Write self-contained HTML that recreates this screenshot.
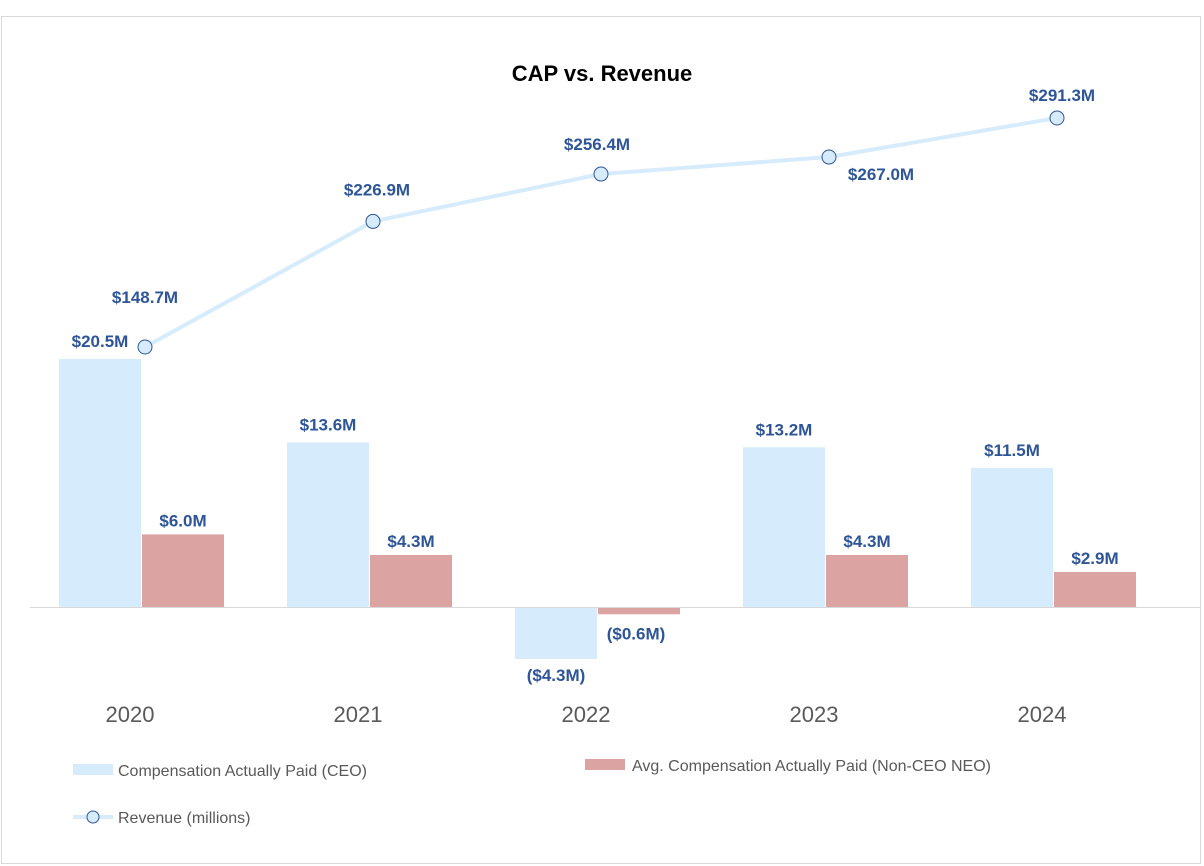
<!DOCTYPE html>
<html><head><meta charset="utf-8"><style>
body{margin:0;background:#fff;font-family:"Liberation Sans",sans-serif}
svg{display:block}
.lbl{font-weight:bold;font-size:17px;fill:#2e5597}
</style></head><body>
<svg id="chart" width="1204" height="866">
<rect x="1.5" y="16.5" width="1199" height="847" fill="#fff" stroke="#d9d9d9"/>
<text x="602" y="81" text-anchor="middle" font-size="22" font-weight="bold" fill="#000">CAP vs. Revenue</text>
<g id="bars"></g><g id="line"></g><g id="labels"></g>
<line x1="30" y1="607.5" x2="1200" y2="607.5" stroke="#d9d9d9"/>
<g>
<rect x="73" y="764" width="40" height="11" fill="#d6ecfc"/>
<text x="118" y="776" font-size="16" fill="#595959">Compensation Actually Paid (CEO)</text>
<rect x="585" y="759" width="40" height="11" fill="#dca3a3"/>
<text x="632" y="771" font-size="16" fill="#595959">Avg. Compensation Actually Paid (Non-CEO NEO)</text>
<line x1="73" y1="817" x2="113" y2="817" stroke="#d6ecfc" stroke-width="4"/>
<circle cx="93" cy="817" r="6" fill="#d6ecfc" stroke="#2e5597"/>
<text x="118" y="823" font-size="16" fill="#595959">Revenue (millions)</text>
</g>
</svg>
<script>
const years=["2020","2021","2022","2023","2024"];
const ceo=[20.5,13.6,-4.3,13.2,11.5];
const neo=[6.0,4.3,-0.6,4.3,2.9];
const revenue=[148.7,226.9,256.4,267.0,291.3];
const ceoLabels=["$20.5M","$13.6M","($4.3M)","$13.2M","$11.5M"];
const neoLabels=["$6.0M","$4.3M","($0.6M)","$4.3M","$2.9M"];
const revLabels=["$148.7M","$226.9M","$256.4M","$267.0M","$291.3M"];
const NS="http://www.w3.org/2000/svg";
const xC=i=>142+i*228;
const yBar=v=>607-v*12.1;
const yRev=v=>347-(v-148.7)*1.606;
function mk(tag,attrs,parent,txt){const e=document.createElementNS(NS,tag);for(const k in attrs)e.setAttribute(k,attrs[k]);if(txt!=null)e.textContent=txt;document.getElementById(parent).appendChild(e);return e;}
years.forEach((y,i)=>{
 const c=xC(i);
 let y0=yBar(0),y1=yBar(ceo[i]);
 let r=mk('rect',{x:c-83,y:Math.min(y0,y1),width:82,height:Math.abs(y1-y0),fill:'#d6ecfc'},'bars');
 
 
 y1=yBar(neo[i]);
 r=mk('rect',{x:c,y:Math.min(y0,y1),width:82,height:Math.abs(y1-y0),fill:'#dca3a3'},'bars');
 
 
 let t=mk('text',{x:c-42,y:ceo[i]>=0?yBar(ceo[i])-12:yBar(ceo[i])+22,'text-anchor':'middle',class:'lbl'},'labels',ceoLabels[i]);
 
 
 t=mk('text',{x:neo[i]>=0?c+41:c+38,y:neo[i]>=0?yBar(neo[i])-8:yBar(neo[i])+25,'text-anchor':'middle',class:'lbl'},'labels',neoLabels[i]);
 
 
 t=mk('text',{x:c-12,y:722,'text-anchor':'middle','font-size':22,fill:'#595959'},'labels',y);
 
 
});
const pts=revenue.map((v,i)=>[xC(i)+3,yRev(v)]);
let p=mk('polyline',{points:pts.map(q=>q.join(',')).join(' '),fill:'none',stroke:'#d6ecfc','stroke-width':4},'line');


const off=[[0,-44],[4,-26],[-4,-24],[52,23],[5,-17]];
pts.forEach((q,i)=>{
 const c=mk('circle',{cx:q[0],cy:q[1],r:7,fill:'#d6ecfc',stroke:'#2e5597','stroke-width':1},'line');
 
 
 const t=mk('text',{x:q[0]+off[i][0],y:q[1]+off[i][1],'text-anchor':'middle',class:'lbl'},'labels',revLabels[i]);
 
 
});
</script>
</body></html>
